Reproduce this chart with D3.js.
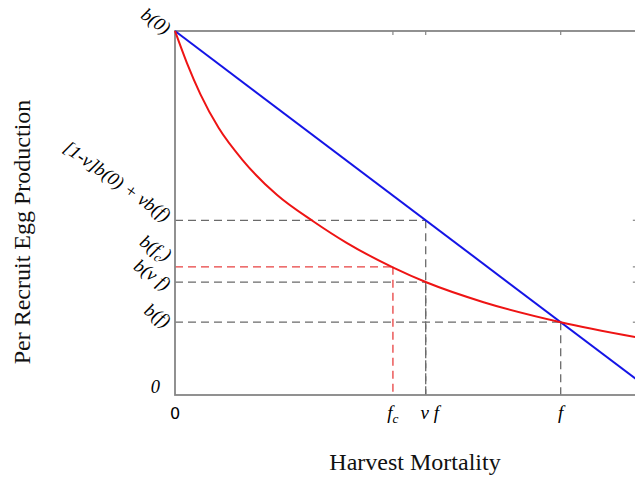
<!DOCTYPE html>
<html lang="en">
<head>
  <meta charset="utf-8">
  <title>Per Recruit Egg Production</title>
  <script src="https://d3js.org/d3.v7.min.js"></script>
  <style>
    body { margin: 0; background: #fff; }
  </style>
</head>
<body>
<script>
// red curve b(x) (x in units of f, y in units of b(0))
var curveX = [0, 0.031, 0.066, 0.113, 0.178, 0.264, 0.36, 0.445, 0.566, 0.653, 0.8, 1.0, 1.2];
var curveB = [1, 0.912, 0.826, 0.734, 0.642, 0.55, 0.476, 0.418, 0.35, 0.309, 0.255, 0.2, 0.158];

// straight blue line
var lineX = [0, 1.2];
var lineB = [1, 0.04];

// guide lines: corner points (x, y)
var guideX = [0.565, 0.65, 0.65, 1.0];
var guideY = [0.352, 0.48, 0.31, 0.2];

// tick labels
var xTickVals = [0, 0.565, 0.65, 1.0];
var xTickText = ['0', 'f_c', 'ν f', 'f'];
var yTickVals = [1, 0.48, 0.352, 0.31, 0.2, 0];
var yTickText = ['b(0)', '[1-ν]b(0) + νb(f)', 'b(f_c)', 'b(ν f)', 'b(f)', '0'];

var w = 635, h = 478;
// note: "top" is taken by window.top, so use other names
var padL = 175, padT = 31, padB = 395;

var x = d3.scaleLinear().domain([0, 1.2]).range([padL, padL + 1.2 * 385.7]);
var y = d3.scaleLinear().domain([0, 1]).range([padB, padT]);
var padR = x(1.2) - 1;

var svg = d3.select('body').append('svg')
  .attr('width', w)
  .attr('height', h);

// puts "_c" style subscripts into tspans
function setLabel(sel, s) {
  var parts = s.split('_');
  sel.append('tspan').text(parts[0]);
  if (parts.length > 1) {
    sel.append('tspan')
      .attr('font-size', '0.7em')
      .attr('dy', '0.3em')
      .text(parts[1].charAt(0));
    if (parts[1].length > 1) {
      sel.append('tspan').attr('dy', '-0.3em').text(parts[1].slice(1));
    }
  }
}

// guides
var gray = '#6a6a6a';
guideX.forEach(function(gx, i) {
  var col = i == 0 ? '#e84040' : gray;
  svg.append('line')
    .attr('x1', x(0)).attr('x2', x(gx))
    .attr('y1', y(guideY[i])).attr('y2', y(guideY[i]))
    .attr('stroke', col).attr('stroke-width', 1.3)
    .attr('stroke-dasharray', '8,5');
  svg.append('line')
    .attr('x1', x(gx)).attr('x2', x(gx))
    .attr('y1', y(guideY[i])).attr('y2', y(0))
    .attr('stroke', col).attr('stroke-width', 1.3)
    .attr('stroke-dasharray', '8,5');
});

// frame
var frame = '#858585';
svg.append('rect')
  .attr('x', padL).attr('y', padT)
  .attr('width', padR - padL).attr('height', padB - padT)
  .attr('fill', 'none').attr('stroke', frame).attr('stroke-width', 1.8);

// ticks pointing inwards on top and right
xTickVals.slice(1).forEach(function(v) {
  svg.append('line')
    .attr('x1', x(v)).attr('x2', x(v))
    .attr('y1', padT).attr('y2', padT + 4)
    .attr('stroke', frame).attr('stroke-width', 1.2);
});
yTickVals.slice(1, 5).forEach(function(v) {
  svg.append('line')
    .attr('x1', padR - 4).attr('x2', padR)
    .attr('y1', y(v)).attr('y2', y(v))
    .attr('stroke', frame).attr('stroke-width', 1.2);
});

// curves
var path = d3.line()
  .x(function(d) { return x(d[0]); })
  .y(function(d) { return y(d[1]); });

svg.append('path')
  .datum(lineX.map(function(v, i) { return [v, lineB[i]]; }))
  .attr('d', path)
  .attr('fill', 'none').attr('stroke', '#1414e6').attr('stroke-width', 2);

svg.append('path')
  .datum(curveX.map(function(v, i) { return [v, curveB[i]]; }))
  .attr('d', path.curve(d3.curveMonotoneX))
  .attr('fill', 'none').attr('stroke', '#ee1414').attr('stroke-width', 2);

// x tick labels
xTickVals.forEach(function(v, i) {
  var t = svg.append('text')
    .attr('x', x(v) + (i == 2 ? 4 : 0)).attr('y', 419)
    .attr('text-anchor', 'middle');
  if (i == 0) {
    t.attr('font-family', 'DejaVu Sans, sans-serif').attr('font-size', 16);
  } else {
    t.attr('font-family', 'Liberation Serif, serif')
      .attr('font-style', 'italic').attr('font-size', 19);
  }
  setLabel(t, xTickText[i]);
});

// y tick labels, slanted
var nudge = [4, 2, -4, 9, 6, -2];
yTickVals.forEach(function(v, i) {
  var t = svg.append('text')
    .attr('text-anchor', 'end')
    .attr('font-family', 'Liberation Serif, serif')
    .attr('font-style', 'italic')
    .attr('font-size', 18.5)
    .attr('transform', 'translate(' + (i == 5 ? 160 : 165) + ',' + (y(v) + nudge[i]) + ') rotate(' + (i == 5 ? 0 : 35) + ')');
  setLabel(t, yTickText[i]);
});

// axis titles
svg.append('text')
  .attr('x', 415).attr('y', 470)
  .attr('text-anchor', 'middle')
  .attr('font-family', 'Liberation Serif, serif')
  .attr('font-size', 24)
  .attr('fill', '#111')
  .text('Harvest Mortality');

svg.append('text')
  .attr('text-anchor', 'middle')
  .attr('font-family', 'Liberation Serif, serif')
  .attr('font-size', 24)
  .attr('fill', '#111')
  .attr('transform', 'translate(30,232) rotate(-90)')
  .text('Per Recruit Egg Production');
</script>
</body>
</html>
